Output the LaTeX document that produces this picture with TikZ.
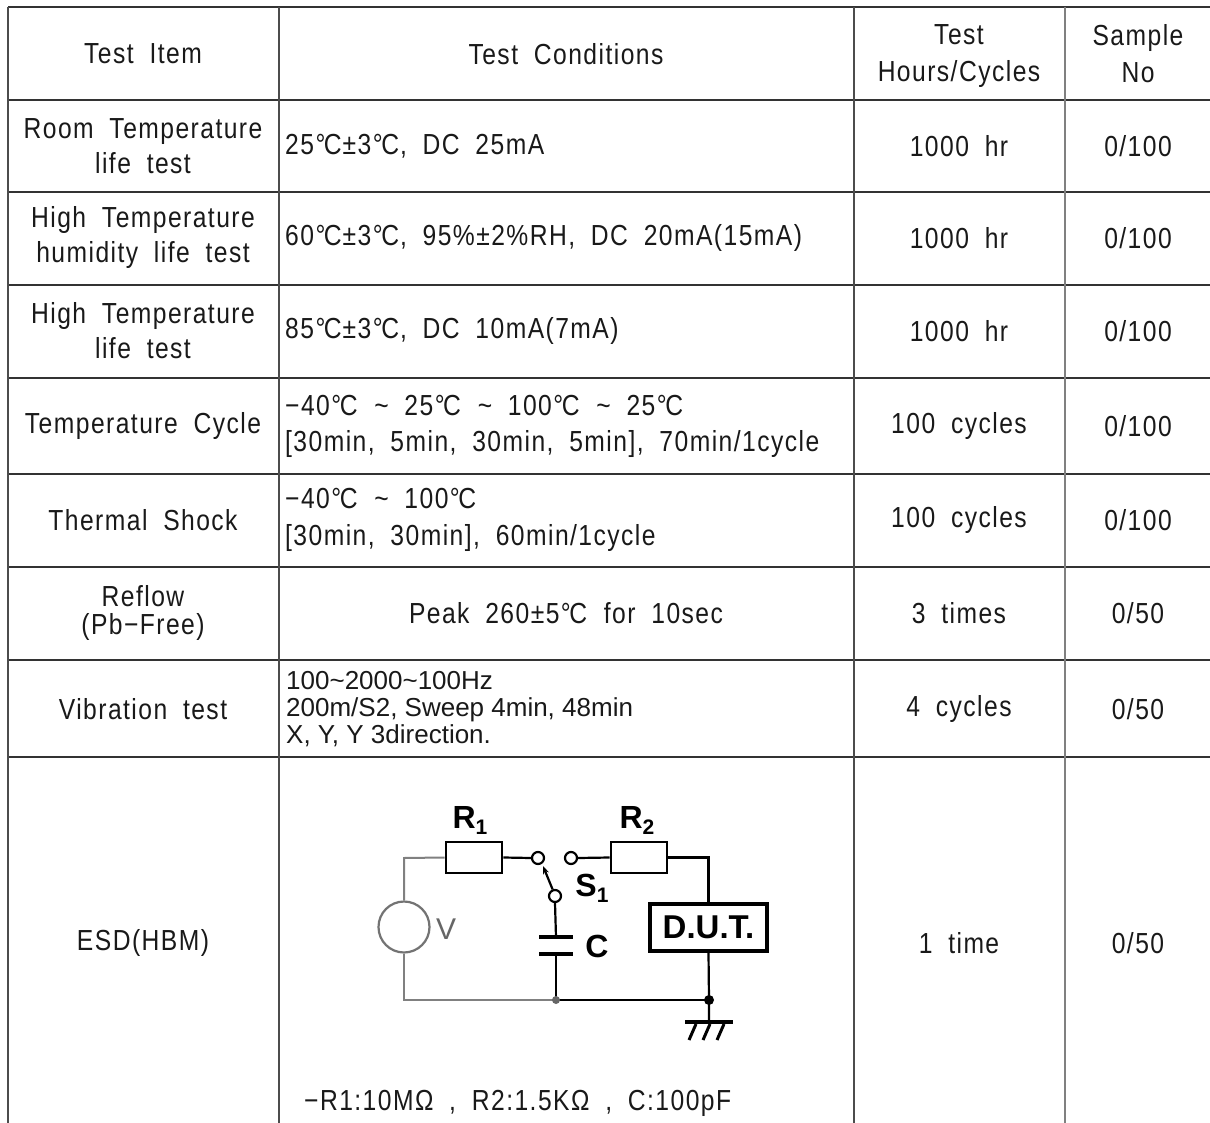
\documentclass[tikz,border=0pt]{standalone}
\usepackage{fontspec}
\setmainfont{Liberation Sans}[FakeStretch=0.85, LetterSpace=5, WordSpace=1.9]
\newfontfamily\plainf{Liberation Sans}[WordSpace=1.6]
\newfontfamily\circf{Liberation Sans}
\usetikzlibrary{arrows.meta,calc}
\newcommand{\dgc}{\kern1.5pt°\kern-1.5ptC\kern1pt}
\begin{document}
\begin{tikzpicture}[x=1pt,y=-1pt,
 hl/.style={line width=1.6pt, black!80},
 vl/.style={line width=1.6pt, black!70},
 txt/.style={inner sep=0pt, font=\fontsize{29}{35}\selectfont, align=center, text=black!90},
 txl/.style={txt, anchor=west, align=left},
 wire/.style={line width=2.2pt, black},
 gwire/.style={line width=2pt, black!50},
 res/.style={draw, line width=2.8pt, minimum width=56pt, minimum height=31pt, inner sep=0pt},
 contact/.style={circle, draw, line width=2.2pt, minimum size=12pt, inner sep=0pt},
 clab/.style={inner sep=0pt, font=\circf\bfseries\fontsize{32}{32}\selectfont}]
\useasboundingbox (0,0) rectangle (1210,1123);
\fill[white] (0,0) rectangle (1210,1123);
% grid
\foreach \yy in {7,100,192,285,378,474,567,660,757} \draw[hl] (8,\yy) -- (1210,\yy);
\foreach \xx in {8,279,854} \draw[vl] (\xx,7) -- (\xx,1123);
\draw[line width=1.6pt, black!50] (1065,7) -- (1065,1123);
% header
\node[txt] (h1) at (143,54) {Test Item};
\node[txt] (h2) at (566,54) {Test Conditions};
\node[txt] (h3) at (959,56) {Test\\[2pt]Hours/Cycles};
\node[txt] (h4) at (1138,54) {Sample\\[2pt]No};
% column 1
\node[txt] (a1) at (143,146) {Room Temperature\\life test};
\node[txt] (a2) at (143,238) {High Temperature\\humidity life test};
\node[txt] (a3) at (143,331) {High Temperature\\life test};
\node[txt] (a4) at (143,426) {Temperature Cycle};
\node[txt] (a5) at (143,520) {Thermal Shock};
\node[txt] (a6) at (143,613) {Reflow\\[-7pt](Pb−Free)};
\node[txt] (a7) at (143,709) {Vibration test};
\node[txt] (a8) at (143,943) {ESD(HBM)};
% column 2
\node[txl] (b1) at (285,146) {25\dgc±3\dgc, DC 25mA};
\node[txl] (b2) at (285,238) {60\dgc±3\dgc, 95\%±2\%RH, DC 20mA(15mA)};
\node[txl] (b3) at (285,331) {85\dgc±3\dgc, DC 10mA(7mA)};
\node[txl] (b4) at (285,426) {−40\dgc{} \textasciitilde{} 25\dgc{} \textasciitilde{} 100\dgc{} \textasciitilde{} 25\dgc\\[1pt]{[}30min, 5min, 30min, 5min], 70min/1cycle};
\node[txl] (b5) at (285,520) {−40\dgc{} \textasciitilde{} 100\dgc\\[2pt]{[}30min, 30min], 60min/1cycle};
\node[txt] (b6) at (566,613) {Peak 260±5\dgc{} for 10sec};
\node[txl, font=\plainf\fontsize{26}{27}\selectfont] (b7) at (286,709) {100\textasciitilde2000\textasciitilde100Hz\\200m/S2, Sweep 4min, 48min\\X, Y, Y 3direction.};
\node[txl] (b8) at (304,1103) {−R1:10MΩ , R2:1.5KΩ , C:100pF};
% column 3
\node[txt] (c1) at (959,146) {1000 hr};
\node[txt] (c2) at (959,238) {1000 hr};
\node[txt] (c3) at (959,331) {1000 hr};
\node[txt] (c4) at (959,426) {100 cycles};
\node[txt] (c5) at (959,520) {100 cycles};
\node[txt] (c6) at (959,613) {3 times};
\node[txt] (c7) at (959,709) {4 cycles};
\node[txt] (c8) at (959,943) {1 time};
% column 4
\node[txt] (d1) at (1138,146) {0/100};
\node[txt] (d2) at (1138,238) {0/100};
\node[txt] (d3) at (1138,331) {0/100};
\node[txt] (d4) at (1138,426) {0/100};
\node[txt] (d5) at (1138,520) {0/100};
\node[txt] (d6) at (1138,613) {0/50};
\node[txt] (d7) at (1138,709) {0/50};
\node[txt] (d8) at (1138,943) {0/50};
% circuit
\node[res] (R1) at (474,857.5) {};
\node[res] (R2) at (639,857.5) {};
\node[contact] (sl) at (538,858) {};
\node[contact] (sr) at (571,858) {};
\node[contact] (sb) at (555,896) {};
\node[draw, line width=3.5pt, minimum width=117pt, minimum height=47pt, inner sep=0pt, font=\circf\bfseries\fontsize{33}{33}\selectfont] (DUT) at (708.5,927.5) {D.U.T.};
\node[circle, draw=black!55, line width=2.2pt, minimum size=51pt, inner sep=0pt] (V) at (404,927) {};
\coordinate (tl) at (404,858);
\coordinate (bl) at (404,1000);
\coordinate (jc) at (556,1000);
\coordinate (jd) at (709,1000);
\coordinate (gnd) at (709,1022);
\coordinate (ct) at (556,937);
\coordinate (cb) at (556,954);
\coordinate (armend) at (543,866);
\draw[gwire] (V.north) -- (tl) -- (R1.west);
\draw[gwire] (V.south) -- (bl) -- (jc);
\draw[wire] (R1.east) -- (sl.west);
\draw[wire] (sr.east) -- (R2.west);
\draw[wire] (R2.east) -| (DUT.north);
\draw[wire] (DUT.south) -- (jd) -- (gnd);
\draw[wire] (jc) -- (jd);
\draw[wire] (sb.south) -- (ct);
\draw[wire] (cb) -- (jc);
\draw[line width=3.5pt] ($(ct)+(-17,0)$) -- ($(ct)+(17,0)$);
\draw[line width=3.5pt] ($(cb)+(-17,0)$) -- ($(cb)+(17,0)$);
\draw[wire, -{Stealth[length=8pt,width=6pt]}] (sb.110) -- (armend);
\fill (jd) circle (5pt);
\fill[black!60] (jc) circle (4pt);
\draw[line width=3.5pt] ($(gnd)+(-24,0)$) -- ($(gnd)+(24,0)$);
\foreach \dx in {-13,1,15} \draw[line width=3pt] ($(gnd)+(\dx,2)$) -- ($(gnd)+(\dx-7,18)$);
\node[clab] (lR1) at (470,820) {R\raisebox{-6pt}{\fontsize{21}{21}\selectfont 1}};
\node[clab] (lR2) at (637,820) {R\raisebox{-6pt}{\fontsize{21}{21}\selectfont 2}};
\node[clab] (lS1) at (592,888) {S\raisebox{-6pt}{\fontsize{21}{21}\selectfont 1}};
\node[clab] (lC) at (597,946) {C};
\node[inner sep=0pt, font=\circf\fontsize{30}{30}\selectfont, text=black!60] (lV) at (446,929) {V};
\end{tikzpicture}
\end{document}
